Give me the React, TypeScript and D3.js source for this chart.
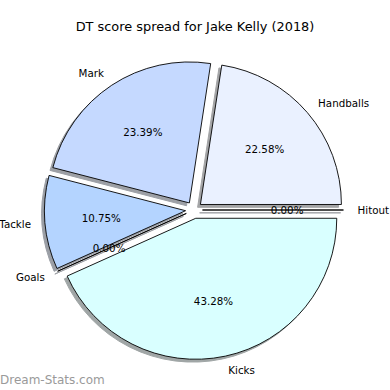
import React from "react";
import { pie, arc, PieArcDatum } from "d3";

const labels = ["Handballs", "Mark", "Tackle", "Goals", "Kicks", "Hitout"];
const shares = [22.58, 23.39, 10.75, 0, 43.28, 0];
const colors = ["#eaf1ff", "#c5d9ff", "#b4d4ff", "#c8e0ff", "#d9ffff", "#dde8ff"];

const width = 390;
const height = 390;
const cx = 194;
const cy = 210;
const radius = 141;
const explode = 0.06;
const fontFamily = "DejaVu Sans, sans-serif";

// shadow colour like matplotlib: 0.3 * face, alpha 0.5 on white
const shadowColor = (hex: string) => {
  const n = parseInt(hex.slice(1), 16);
  const ch = [(n >> 16) & 255, (n >> 8) & 255, n & 255].map((c) =>
    Math.round(255 * 0.5 + c * 0.3 * 0.5)
  );
  return `rgb(${ch.join(",")})`;
};

const App: React.FC = () => {
  // matplotlib starts at 3 o'clock and runs counter clockwise
  const slices = pie<number>()
    .sort(null)
    .startAngle(Math.PI / 2)
    .endAngle(Math.PI / 2 - 2 * Math.PI)(shares);

  const wedge = arc<PieArcDatum<number>>().innerRadius(0).outerRadius(radius);

  const items = slices.map((s, i) => {
    const m = (s.startAngle + s.endAngle) / 2;
    const ox = cx + Math.sin(m) * explode * radius;
    const oy = cy - Math.cos(m) * explode * radius;
    const lx = ox + Math.sin(m) * 1.1 * radius;
    const ly = oy - Math.cos(m) * 1.1 * radius;
    const px = ox + Math.sin(m) * 0.6 * radius;
    const py = oy - Math.cos(m) * 0.6 * radius;
    return { s, i, ox, oy, lx, ly, px, py, d: wedge(s) as string };
  });

  const sh = 0.02 * radius;

  return (
    <svg
      width={width}
      height={height}
      style={{ position: "absolute", left: 0, top: 0, background: "#fff" }}
    >
      <text
        x={195}
        y={26}
        textAnchor="middle"
        dominantBaseline="central"
        fontFamily={fontFamily}
        fontSize={12.9}
      >
        DT score spread for Jake Kelly (2018)
      </text>

      {items.map((it) => (
        <path
          key={`sh-${it.i}`}
          d={it.d}
          transform={`translate(${it.ox - sh},${it.oy + sh})`}
          fill={shadowColor(colors[it.i])}
          stroke={shadowColor(colors[it.i])}
          strokeWidth={1}
        />
      ))}

      {items.map((it) => (
        <path
          key={`w-${it.i}`}
          d={it.d}
          transform={`translate(${it.ox},${it.oy})`}
          fill={colors[it.i]}
          stroke="#000"
          strokeWidth={0.9}
          strokeLinejoin="round"
        />
      ))}

      {items.map((it) => (
        <g key={`t-${it.i}`} fontFamily={fontFamily} fontSize={10.3}>
          <text
            x={it.lx}
            y={it.ly}
            textAnchor={it.lx - cx > 0 ? "start" : "end"}
            dominantBaseline="central"
          >
            {labels[it.i]}
          </text>
          <text
            x={it.px}
            y={it.py}
            textAnchor="middle"
            dominantBaseline="central"
          >
            {shares[it.i].toFixed(2)}%
          </text>
        </g>
      ))}

      <text
        x={0}
        y={384}
        fontFamily={fontFamily}
        fontSize={12}
        fill="#9a9a9a"
      >
        Dream-Stats.com
      </text>
    </svg>
  );
};

export default App;
